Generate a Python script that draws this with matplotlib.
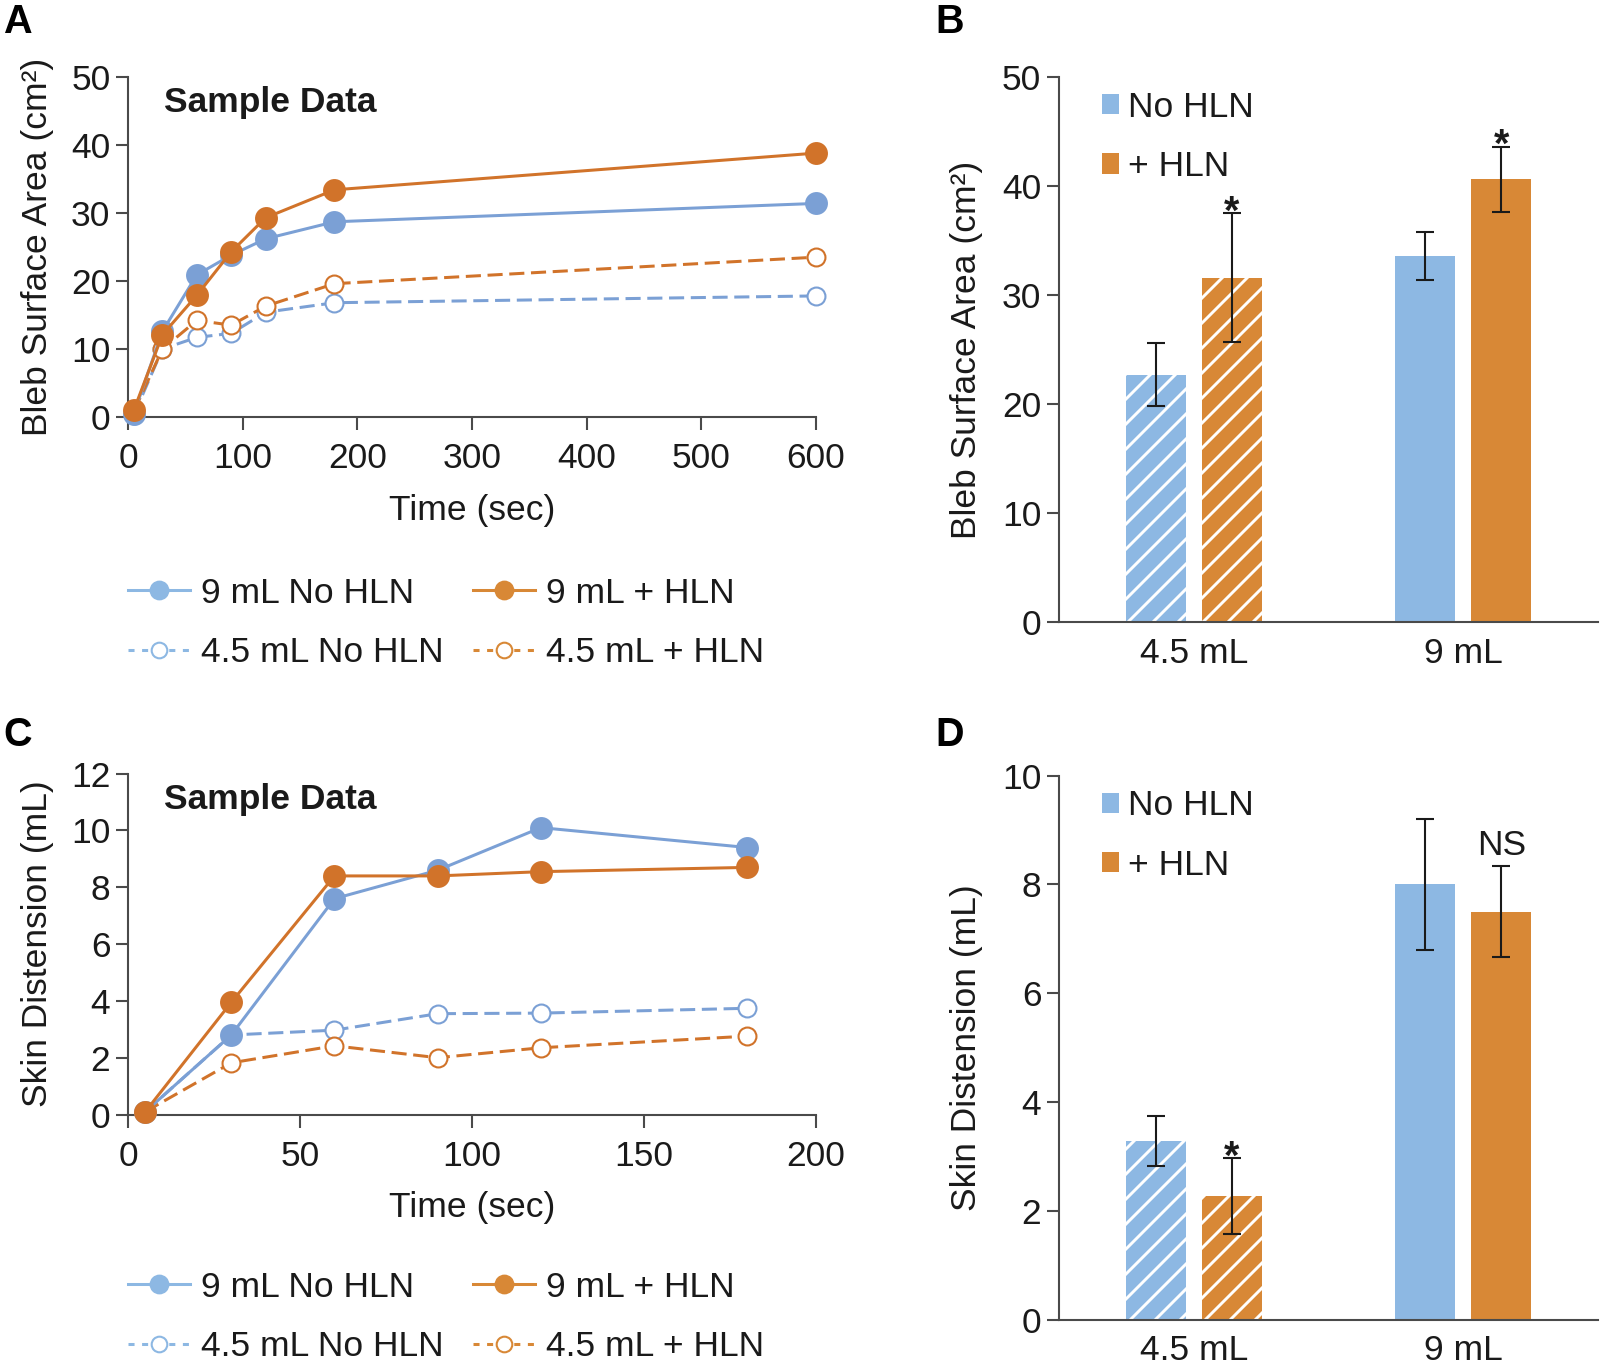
import matplotlib
matplotlib.use("Agg")
import matplotlib.pyplot as plt
from matplotlib.lines import Line2D
from matplotlib.patches import Patch
import numpy as np

plt.rcParams['font.family'] = ['Liberation Sans', 'DejaVu Sans']
plt.rcParams['hatch.linewidth'] = 1.4

# panel A: bleb surface area vs time
time_a = [5, 30, 60, 90, 120, 180, 600]
bleb_9_no = [0.5, 12.6, 20.9, 23.8, 26.2, 28.7, 31.4]
bleb_9_hln = [1.0, 12.1, 17.9, 24.3, 29.3, 33.4, 38.8]
bleb_45_no = [0.3, 10.0, 11.7, 12.3, 15.4, 16.8, 17.8]
bleb_45_hln = [0.8, 10.0, 14.2, 13.5, 16.3, 19.6, 23.5]

# panel C: skin distension vs time
time_c = [5, 30, 60, 90, 120, 180]
dist_9_no = [0.1, 2.8, 7.6, 8.6, 10.1, 9.4]
dist_9_hln = [0.1, 3.95, 8.4, 8.4, 8.55, 8.7]
dist_45_no = [0.1, 2.8, 2.97, 3.55, 3.57, 3.74]
dist_45_hln = [0.1, 1.82, 2.42, 2.0, 2.35, 2.76]

series_labels = ['9 mL No HLN', '4.5 mL No HLN', '9 mL + HLN', '4.5 mL + HLN']

# panels B and D: group means +- error
groups = ['4.5 mL', '9 mL']
bleb_no_mean = [22.7, 33.6]
bleb_no_err = [2.85, 2.2]
bleb_hln_mean = [31.6, 40.6]
bleb_hln_err = [5.9, 3.0]
bleb_marks = ['*', '*']

dist_no_mean = [3.28, 8.0]
dist_no_err = [0.46, 1.2]
dist_hln_mean = [2.27, 7.5]
dist_hln_err = [0.7, 0.84]
dist_marks = ['*', 'NS']

group_hatch = ['//', '']

blue_line = '#7ba0d5'
orange_line = '#d1732a'
blue_bar = '#8db8e3'
orange_bar = '#d88836'
axis_col = '#4a4a4a'
text_col = '#1a1a1a'
FS = 17


def style_axis(ax):
    for s in ['top', 'right']:
        ax.spines[s].set_visible(False)
    for s in ['left', 'bottom']:
        ax.spines[s].set_color(axis_col)
        ax.spines[s].set_linewidth(1.0)
    ax.tick_params(direction='out', length=6, width=1, color=axis_col,
                   labelsize=FS, labelcolor=text_col, pad=2.5)


def line_panel(ax, t, no9, hln9, no45, hln45, ylim, yticks, xticks, ylabel, leg_y):
    dash = (0, (5, 2.2))
    ax.plot(t, no45, color=blue_line, lw=1.45, ls=dash, marker='o', ms=8.6,
            mfc='white', mec=blue_line, mew=1.0, clip_on=False, zorder=3)
    ax.plot(t, hln45, color=orange_line, lw=1.45, ls=dash, marker='o', ms=8.6,
            mfc='white', mec=orange_line, mew=1.0, clip_on=False, zorder=3)
    ax.plot(t, no9, color=blue_line, lw=1.45, marker='o', ms=10,
            mfc=blue_line, mec=blue_line, clip_on=False, zorder=4)
    ax.plot(t, hln9, color=orange_line, lw=1.45, marker='o', ms=10,
            mfc=orange_line, mec=orange_line, clip_on=False, zorder=5)
    style_axis(ax)
    ax.tick_params(axis='x', pad=6)
    ax.set_xlim(xticks[0], xticks[-1])
    ax.set_ylim(*ylim)
    ax.set_xticks(xticks)
    ax.set_yticks(yticks)
    ax.set_ylabel(ylabel, fontsize=FS, color=text_col, labelpad=8)
    ax.set_xlabel('Time (sec)', fontsize=FS, color=text_col, labelpad=9)
    ax.text(0.052, 0.897, 'Sample Data', transform=ax.transAxes, fontsize=FS,
            fontweight='bold', color=text_col, va='baseline')

    handles = [
        Line2D([], [], color=blue_bar, lw=1.45, marker='o', ms=8.5, mfc=blue_bar, mec=blue_bar),
        Line2D([], [], color=blue_bar, lw=1.45, ls=(0, (2, 2.5)), marker='o', ms=7.5,
               mfc='white', mec=blue_bar, mew=1.0),
        Line2D([], [], color=orange_bar, lw=1.45, marker='o', ms=8.5, mfc=orange_bar, mec=orange_bar),
        Line2D([], [], color=orange_bar, lw=1.45, ls=(0, (2, 2.5)), marker='o', ms=7.5,
               mfc='white', mec=orange_bar, mew=1.0),
    ]
    leg = ax.legend(handles, series_labels, ncol=2, loc='upper left',
                    bbox_to_anchor=(0.0, leg_y), frameon=False, fontsize=FS,
                    handlelength=1.75, handletextpad=0.3, columnspacing=0.85,
                    labelspacing=0.75, borderpad=0, borderaxespad=0)
    for txt in leg.get_texts():
        txt.set_color(text_col)


def bar_panel(ax, no_mean, no_err, hln_mean, hln_err, marks, ylim, yticks, ylabel):
    x = np.arange(len(groups))
    w = 0.223
    off = 0.141
    b1 = ax.bar(x - off, no_mean, w, color=blue_bar, edgecolor='white', linewidth=0)
    b2 = ax.bar(x + off, hln_mean, w, color=orange_bar, edgecolor='white', linewidth=0)
    for i in range(len(groups)):
        b1[i].set_hatch(group_hatch[i])
        b2[i].set_hatch(group_hatch[i])
    ax.errorbar(x - off, no_mean, yerr=no_err, fmt='none', ecolor=text_col,
                elinewidth=1.0, capsize=4.3, capthick=1.0, zorder=4)
    ax.errorbar(x + off, hln_mean, yerr=hln_err, fmt='none', ecolor=text_col,
                elinewidth=1.0, capsize=4.3, capthick=1.0, zorder=4)
    for i, m in enumerate(marks):
        if m == '*':
            ax.annotate(m, (x[i] + off, hln_mean[i] + hln_err[i]), xytext=(0, -5),
                        textcoords='offset points', ha='center', va='baseline',
                        fontsize=FS + 2, fontweight='bold', color=text_col)
        else:
            ax.annotate(m, (x[i] + off, hln_mean[i] + hln_err[i]), xytext=(0, 5),
                        textcoords='offset points', ha='center', va='baseline',
                        fontsize=FS, color=text_col)
    style_axis(ax)
    ax.tick_params(axis='x', length=0, pad=7)
    ax.set_xlim(-0.5, len(groups) - 0.5)
    ax.set_ylim(*ylim)
    ax.set_yticks(yticks)
    ax.set_xticks(x)
    ax.set_xticklabels(groups)
    ax.set_ylabel(ylabel, fontsize=FS, color=text_col, labelpad=9)
    handles = [Patch(facecolor=blue_bar), Patch(facecolor=orange_bar)]
    leg = ax.legend(handles, ['No HLN', '+ HLN'], loc='upper left',
                    bbox_to_anchor=(0.079, 0.975), frameon=False, fontsize=FS,
                    handlelength=0.5, handleheight=0.5, handletextpad=0.25,
                    labelspacing=0.75, borderpad=0, borderaxespad=0)
    for txt in leg.get_texts():
        txt.set_color(text_col)


fig = plt.figure(figsize=(1601 / 150, 1364 / 150), dpi=150)

ax_a = fig.add_axes([0.0800, 0.6943, 0.4297, 0.2493])
ax_c = fig.add_axes([0.0800, 0.1829, 0.4297, 0.2499])
ax_b = fig.add_axes([0.6615, 0.5440, 0.3367, 0.3996])
ax_d = fig.add_axes([0.6615, 0.0326, 0.3367, 0.3988])

line_panel(ax_a, time_a, bleb_9_no, bleb_9_hln, bleb_45_no, bleb_45_hln,
           (0, 50), range(0, 51, 10), [0, 100, 200, 300, 400, 500, 600],
           'Bleb Surface Area (cm²)', -0.47)
line_panel(ax_c, time_c, dist_9_no, dist_9_hln, dist_45_no, dist_45_hln,
           (0, 12), range(0, 13, 2), [0, 50, 100, 150, 200],
           'Skin Distension (mL)', -0.458)
bar_panel(ax_b, bleb_no_mean, bleb_no_err, bleb_hln_mean, bleb_hln_err, bleb_marks,
          (0, 50), range(0, 51, 10), 'Bleb Surface Area (cm²)')
bar_panel(ax_d, dist_no_mean, dist_no_err, dist_hln_mean, dist_hln_err, dist_marks,
          (0, 10), range(0, 11, 2), 'Skin Distension (mL)')

for letter, lx, ly in [('A', 3, 3), ('B', 935, 3), ('C', 3, 716), ('D', 935, 716)]:
    fig.text(lx / 1601, 1 - ly / 1364, letter, fontsize=19, fontweight='bold',
             ha='left', va='top', color='black')

fig.savefig('out.png', dpi=150)
